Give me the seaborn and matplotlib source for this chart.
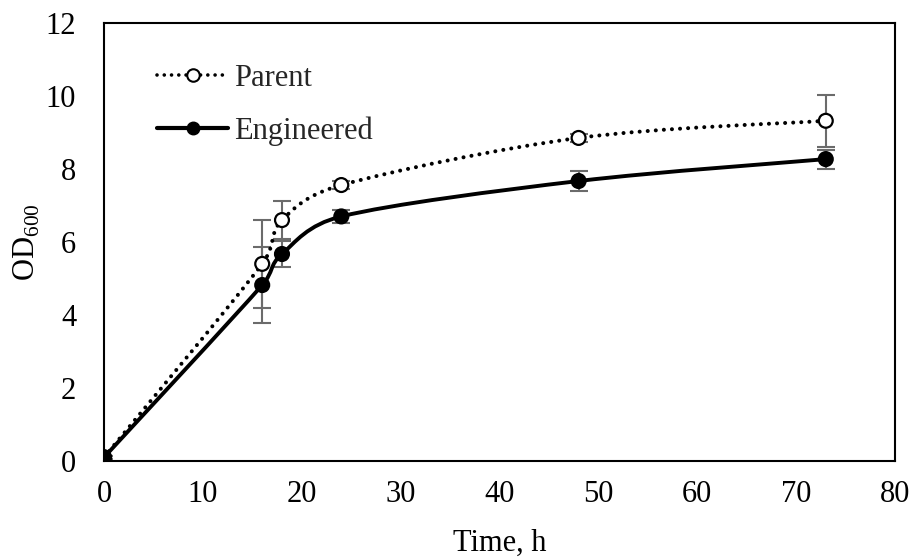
import numpy as np
import pandas as pd
import seaborn as sns
import matplotlib
matplotlib.use("Agg")
import matplotlib.pyplot as plt
from matplotlib.path import Path
from matplotlib.patches import PathPatch
from matplotlib.lines import Line2D

# Growth curve data (time in hours, OD600 with standard deviation)
time_h = [0, 16, 18, 24, 48, 73]
parent_od = [0.10, 5.40, 6.60, 7.56, 8.85, 9.32]
parent_sd = [0.05, 1.20, 0.52, 0.10, 0.10, 0.72]
engineered_od = [0.10, 4.82, 5.67, 6.70, 7.67, 8.27]
engineered_sd = [0.05, 1.03, 0.35, 0.18, 0.27, 0.26]
series_names = ["Parent", "Engineered"]

df = pd.concat([
    pd.DataFrame({"time": time_h, "od": parent_od, "sd": parent_sd, "strain": series_names[0]}),
    pd.DataFrame({"time": time_h, "od": engineered_od, "sd": engineered_sd, "strain": series_names[1]}),
])

sns.set_theme(style="white")
plt.rcParams["font.family"] = ["Liberation Serif", "DejaVu Serif"]
plt.rcParams["mathtext.fontset"] = "custom"
plt.rcParams["mathtext.rm"] = "Liberation Serif"

FS = 22
AX_RECT = [0.1138, 0.1768, 0.8654, 0.7822]
fig = plt.figure(figsize=(9.14, 5.6), dpi=100)
ax = fig.add_axes(AX_RECT)
ax.set_xlim(0, 80)
ax.set_ylim(0, 12)

# scale factors so the smoothing is computed in screen proportions
sx = AX_RECT[2] * 9.14 / 80.0
sy = AX_RECT[3] * 5.6 / 12.0


def smooth_path(xs, ys, tension=1 / 6.0):
    """Cubic Bezier path through the points (spreadsheet-style smoothed line)."""
    P = np.column_stack([np.asarray(xs, float) * sx, np.asarray(ys, float) * sy])
    n = len(P)
    verts = [P[0]]
    codes = [Path.MOVETO]
    for i in range(n - 1):
        p0 = P[i - 1] if i > 0 else P[i]
        p1, p2 = P[i], P[i + 1]
        p3 = P[i + 2] if i + 2 < n else P[i + 1]
        seg = np.linalg.norm(p2 - p1)
        t1 = p2 - p0
        t2 = p3 - p1
        n1 = np.linalg.norm(t1)
        n2 = np.linalg.norm(t2)
        d1 = t1 / n1 * min(seg * 0.5, n1 * tension) if n1 > 0 else 0
        d2 = t2 / n2 * min(seg * 0.5, n2 * tension) if n2 > 0 else 0
        verts += [p1 + d1, p2 - d2, p2]
        codes += [Path.CURVE4] * 3
    V = np.array(verts)
    V[:, 0] /= sx
    V[:, 1] /= sy
    return Path(V, codes)


err_color = "#6b6b6b"
for name, sub in df.groupby("strain", sort=False):
    ax.errorbar(sub["time"], sub["od"], yerr=sub["sd"], fmt="none",
                ecolor=err_color, elinewidth=1.5, capsize=6.5, capthick=1.5, zorder=2)

# smoothed connecting curves
ax.add_patch(PathPatch(smooth_path(time_h, parent_od), facecolor="none", edgecolor="black",
                       lw=2.9, linestyle=(0, (0.01, 2.0)), capstyle="round", zorder=3))
ax.add_patch(PathPatch(smooth_path(time_h, engineered_od), facecolor="none", edgecolor="black",
                       lw=2.8, capstyle="round", zorder=3))

# markers
sns.scatterplot(data=df, x="time", y="od", hue="strain", style="strain",
                palette={"Parent": "white", "Engineered": "black"},
                markers={"Parent": "o", "Engineered": "o"},
                edgecolor="black", linewidth=1.6, s=100, legend=False, zorder=4, ax=ax)

ax.set_xticks(range(0, 81, 10))
ax.set_yticks(range(0, 13, 2))
ax.tick_params(axis="both", which="both", length=0, labelsize=FS, colors="black")
ax.tick_params(axis="y", pad=20)
ax.tick_params(axis="x", pad=14)
ax.set_xlabel("Time, h", fontsize=FS, color="black", labelpad=14)
ax.set_ylabel(r"OD$_\mathregular{600}$", fontsize=FS, color="black", labelpad=3)
for sp in ax.spines.values():
    sp.set_visible(True)
    sp.set_color("black")
    sp.set_linewidth(1.5)

handles = [
    Line2D([0], [0], color="black", lw=2.6, linestyle=(0, (0.01, 2.0)), dash_capstyle="round",
           marker="o", markersize=9, markerfacecolor="white", markeredgecolor="black",
           markeredgewidth=1.5),
    Line2D([0], [0], color="black", lw=3.0, marker="o", markersize=9,
           markerfacecolor="black", markeredgecolor="black"),
]
ax.legend(handles, series_names, loc="upper left", bbox_to_anchor=(0.052, 0.935), frameon=False,
          fontsize=FS, handlelength=2.3, handletextpad=0.2, labelspacing=0.77, borderaxespad=0)

fig.savefig("out.png", dpi=100)
